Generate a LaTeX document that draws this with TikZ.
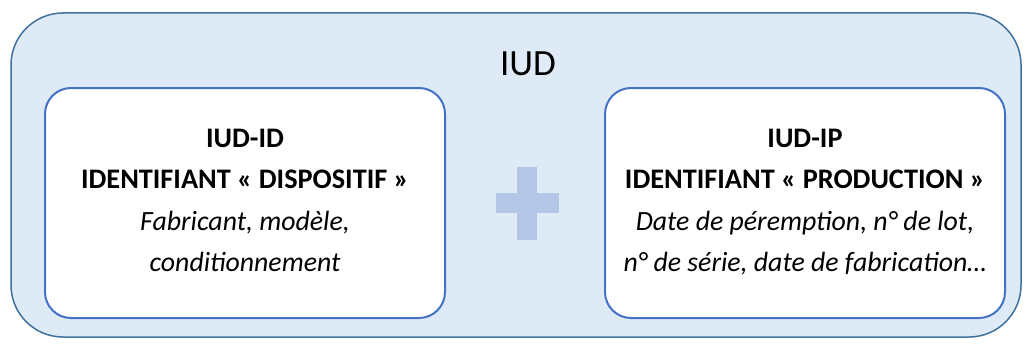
\documentclass[tikz,border=0pt]{standalone}
\usepackage{fontspec}
\setmainfont{Carlito}
\definecolor{outerfill}{HTML}{DEEAF6}
\definecolor{outerline}{HTML}{41719C}
\definecolor{innerline}{HTML}{4472C4}
\definecolor{plusfill}{HTML}{B4C7E7}
\tikzset{
  outerbox/.style={draw=outerline, line width=1.5pt, fill=outerfill, rounded corners=52pt},
  innerbox/.style={draw=innerline, line width=2pt, fill=white, rounded corners=26pt},
  titletxt/.style={anchor=base, inner sep=0pt, font=\fontsize{37}{42}\selectfont},
  boldtxt/.style={anchor=base, inner sep=0pt, font=\fontsize{28.3}{32}\selectfont\bfseries},
  itxt/.style={anchor=base, inner sep=0pt, font=\fontsize{27.8}{32}\selectfont\itshape},
}
\begin{document}
\begin{tikzpicture}[x=1pt,y=-1pt]
\useasboundingbox (0,0) rectangle (1032,345);
\draw[outerbox] (11,13) rectangle (1021,337);
\node[titletxt] (title) at (528,75) {IUD};
\draw[innerbox] (45,88) rectangle (445,318);
\draw[innerbox] (605,88) rectangle (1005,318);
% plus sign
\fill[plusfill] (496,193) rectangle (559,213);
\fill[plusfill] (517,167) rectangle (537,240);
% left box text
\node[boldtxt] (l1) at (245,147) {IUD-ID};
\node[boldtxt] (l2) at (245,188) {IDENTIFIANT « DISPOSITIF »};
\node[itxt] (l3) at (245,230) {Fabricant, modèle,};
\node[itxt] (l4) at (245,271) {conditionnement};
% right box text
\node[boldtxt] (r1) at (805,147) {IUD-IP};
\node[boldtxt] (r2) at (805,188) {IDENTIFIANT « PRODUCTION »};
\node[itxt] (r3) at (805,230) {Date de péremption, n° de lot,};
\node[itxt] (r4) at (805,271) {n° de série, date de fabrication…};
\end{tikzpicture}
\end{document}
